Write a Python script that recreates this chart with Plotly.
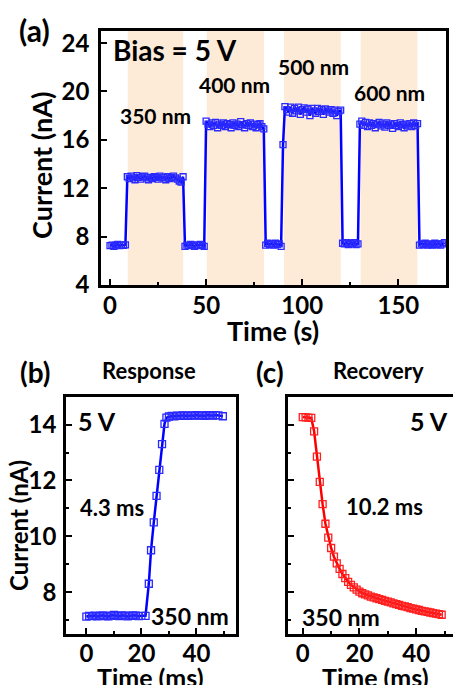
import plotly.graph_objects as go

# ---------------- data ----------------
# Panel (a): current vs time (1 s sampling)
a_time = list(range(0, 175))
a_current = (
    [7.25, 7.3, 7.2, 7.3, 7.35, 7.25, 7.3, 7.28, 7.32]
    + [12.95, 12.8, 13.0, 12.85, 12.7, 13.05, 12.9, 12.75, 12.95, 13.0, 12.85, 12.7, 12.9, 12.8, 12.95,
       12.9, 12.75, 13.0, 12.85, 12.9, 12.7, 12.95, 12.8, 12.9, 13.0, 12.85, 12.75, 12.6, 12.5, 12.95]
    + [7.2, 7.3, 7.25, 7.35, 7.3, 7.2, 7.3, 7.28, 7.35, 7.25, 7.2]
    + [17.55, 17.3, 17.1, 17.4, 17.2, 17.45, 17.0, 17.3, 17.2, 17.4, 17.1, 17.35, 17.25, 17.0, 17.4, 17.2,
       17.3, 17.1, 17.5, 17.25, 17.0, 17.35, 17.2, 17.4, 17.1, 17.3, 17.0, 17.25, 17.35, 17.1, 16.9]
    + [7.3, 7.45, 7.35, 7.4, 7.3, 7.45, 7.35, 7.4, 7.2]
    + [15.6]
    + [18.75, 18.5, 18.3, 18.7, 18.2, 18.6, 18.4, 18.7, 18.1, 18.5, 18.65, 18.3, 18.55, 18.0, 18.6,
       18.4, 18.2, 18.6, 18.35, 18.5, 18.1, 18.55, 18.4, 18.3, 18.5, 18.2, 18.45, 18.0, 18.35, 18.45]
    + [7.45, 7.4, 7.5, 7.35, 7.45, 7.4, 7.5, 7.35, 7.4]
    + [17.3, 17.55, 17.2, 17.45, 17.1, 17.4, 17.2, 17.35, 17.0, 17.3, 17.45, 17.15, 17.3, 17.05, 17.4,
       17.2, 17.3, 16.95, 17.35, 17.2, 17.1, 17.4, 17.25, 17.0, 17.3, 17.15, 17.35, 17.1, 17.4, 17.2, 17.35]
    + [7.3, 7.4, 7.35, 7.45, 7.3, 7.4, 7.35, 7.3, 7.45, 7.35, 7.4, 7.3, 7.4, 7.5]
)
light_on = [(9.2, 38.1), (50.3, 80.1), (90.5, 120.0), (130.4, 159.9)]
wavelength_labels = ["350 nm", "400 nm", "500 nm", "600 nm"]

# Panel (b): response
b_time = [0, 1, 2, 3, 4, 5, 6, 7, 8, 9, 10, 11, 12, 13, 14, 15, 16, 17, 18, 19, 20, 21.5,
          22.7, 23.5, 24.5, 25.5, 26.5, 27.5, 28.4, 29.1,
          30, 31, 32, 33, 34, 35, 36, 37, 38, 39, 40, 41, 42, 43, 44, 45, 46, 47, 48, 49.6]
b_current = [7.12, 7.15, 7.14, 7.16, 7.13, 7.15, 7.17, 7.14, 7.13, 7.16, 7.18, 7.15, 7.14, 7.17,
             7.16, 7.13, 7.15, 7.17, 7.16, 7.14, 7.15, 7.15,
             8.3, 9.5, 10.5, 11.45, 12.38, 13.3, 14.03, 14.25,
             14.29, 14.31, 14.3, 14.32, 14.31, 14.33, 14.32, 14.31, 14.33, 14.32, 14.34, 14.32,
             14.33, 14.31, 14.34, 14.33, 14.32, 14.34, 14.33, 14.3]

# Panel (c): recovery
c_time = list(range(0, 50))
c_current = [14.27, 14.26, 14.25, 14.24, 13.76, 12.85, 11.95, 11.15, 10.45, 9.95,
             9.58, 9.27, 9.03, 8.83, 8.65, 8.50, 8.37, 8.26, 8.17, 8.09,
             8.02, 7.96, 7.92, 7.88, 7.84, 7.81, 7.78, 7.75, 7.72, 7.69,
             7.66, 7.63, 7.60, 7.57, 7.54, 7.51, 7.49, 7.46, 7.43, 7.41,
             7.38, 7.36, 7.33, 7.31, 7.29, 7.27, 7.25, 7.23, 7.21, 7.19]

# ---------------- figure ----------------
W, H = 453, 685
FONT = "Lato"
BLUE = "#0000ff"
RED = "#ff0000"


def px(x):
    return x / W


def py(y):
    return 1 - y / H


fig = go.Figure()

fig.add_trace(go.Scatter(
    x=a_time, y=a_current, mode="lines+markers", xaxis="x", yaxis="y",
    line=dict(color=BLUE, width=2.5),
    marker=dict(symbol="square-open", size=6, color="#2a2aff", line=dict(width=1.3)),
    showlegend=False))

fig.add_trace(go.Scatter(
    x=b_time, y=b_current, mode="lines+markers", xaxis="x2", yaxis="y2",
    line=dict(color=BLUE, width=2.5),
    marker=dict(symbol="square-open", size=7, color="#2a2aff", line=dict(width=1.3)),
    showlegend=False))

fig.add_trace(go.Scatter(
    x=c_time, y=c_current, mode="lines+markers", xaxis="x3", yaxis="y3",
    line=dict(color=RED, width=2.5),
    marker=dict(symbol="square-open", size=7, color="#ff2020", line=dict(width=1.3)),
    showlegend=False))

tickfont = dict(family=FONT, size=24, color="black", weight="bold")
axis_common = dict(showline=True, linecolor="black", linewidth=2.5, ticks="inside",
                   tickcolor="black", tickwidth=2, showgrid=False, zeroline=False,
                   tickfont=tickfont, automargin=False)
minor_style = dict(ticks="inside", ticklen=3, tickwidth=2, tickcolor="black", showgrid=False)

shapes = []
for (s, e) in light_on:
    shapes.append(dict(type="rect", xref="x", yref="y domain", x0=s, x1=e, y0=0, y1=1,
                       fillcolor="#fdebd8", line=dict(width=0), layer="below"))

fig.update_layout(
    width=W, height=H, margin=dict(l=0, r=0, t=0, b=0, autoexpand=False),
    paper_bgcolor="white", plot_bgcolor="white",
    shapes=shapes,
    xaxis=dict(domain=[px(101), px(446)], anchor="y", range=[-4.7, 174.8],
               tickvals=[0, 50, 100, 150], ticklen=6, mirror=True, ticklabelstandoff=-3,
               minor=dict(tickvals=[25, 75, 125], **minor_style), **axis_common),
    yaxis=dict(domain=[py(285), py(31)], anchor="x", range=[4, 25.0],
               tickvals=[4, 8, 12, 16, 20, 24], ticklen=6, mirror=True,
               ticklabelstandoff=4, **axis_common),
    xaxis2=dict(domain=[px(66), px(235.5)], anchor="y2", range=[-7.4, 54.2],
                tickvals=[0, 20, 40], ticklen=6, mirror=True, ticklabelstandoff=-4,
                minor=dict(tickvals=[10, 30, 50], **minor_style), **axis_common),
    yaxis2=dict(domain=[py(634), py(396.7)], anchor="x2", range=[6.5, 15.0],
                tickvals=[8, 10, 12, 14], ticklen=6, mirror=True, ticklabelstandoff=2,
                minor=dict(tickvals=[7, 9, 11, 13], **minor_style), **axis_common),
    xaxis3=dict(domain=[px(288.3), 1.0], anchor="y3", range=[-5.1, 53.0],
                tickvals=[0, 20, 40], ticklen=6, mirror=True, ticklabelstandoff=-4,
                minor=dict(tickvals=[10, 30, 50], **minor_style), **axis_common),
    yaxis3=dict(domain=[py(634), py(396.7)], anchor="x3", range=[6.5, 15.0],
                tickvals=[8, 10, 12, 14], ticklen=6, showticklabels=False,
                minor=dict(tickvals=[7, 9, 11, 13], **minor_style), **axis_common),
)


def ann(text, x, y, size, angle=0):
    fig.add_annotation(text=text, x=px(x), y=py(y), xref="paper", yref="paper",
                       xanchor="center", yanchor="middle", showarrow=False, textangle=angle,
                       font=dict(family=FONT, size=size, color="black", weight="bold"))


# panel (a)
ann("(a)", 34, 30, 30)
ann("Bias = 5 V", 175, 50, 28)
ann(wavelength_labels[0], 155, 115, 21)
ann(wavelength_labels[1], 234.5, 84, 21)
ann(wavelength_labels[2], 313.5, 66, 21)
ann(wavelength_labels[3], 389, 92, 21)
ann("Current (nA)", 42, 166, 27, -90)
ann("Time (s)", 273, 330, 27)

# panel (b)
ann("(b)", 35, 372, 28)
ann("Response", 149, 370, 22)
ann("5 V", 97, 421, 25)
ann("4.3 ms", 111.5, 507, 22)
ann("350 nm", 190, 616, 23)
ann("Current (nA)", 18, 526, 24, -90)
ann("Time (ms)", 150, 677, 25)

# panel (c)
ann("(c)", 270, 372, 28)
ann("Recovery", 378.5, 370, 22)
ann("5 V", 428.5, 421, 25)
ann("10.2 ms", 384, 506, 22)
ann("350 nm", 341, 617, 23)
ann("Time (ms)", 375, 677, 25)

fig.write_html("out.html", config=dict(displayModeBar=False),
               post_script="document.body.style.margin='0';document.body.style.overflow='hidden';")
